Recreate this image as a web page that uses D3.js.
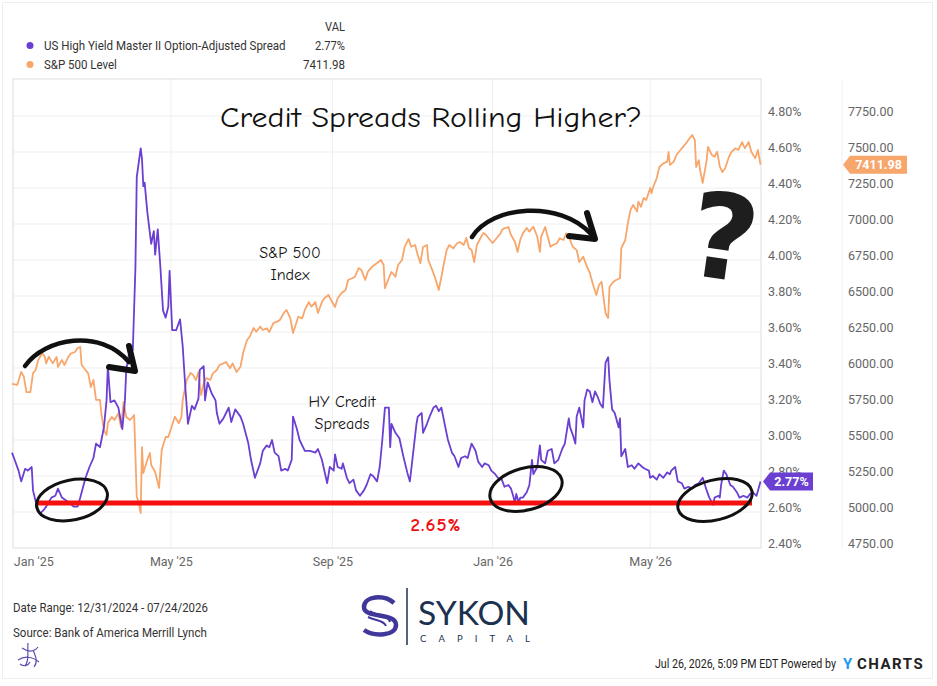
<!DOCTYPE html>
<html>
<head>
<meta charset="utf-8">
<script src="https://cdn.jsdelivr.net/npm/d3@7"></script>
<style>
  html, body { margin: 0; padding: 0; background: #fff; }
  svg { display: block; font-family: Roboto, "Liberation Sans", sans-serif; }
</style>
</head>
<body>
<div id="view"></div>
<script>
// HY spread (%)
const hyDates = ["2024-12-31","2025-01-02","2025-01-05","2025-01-07","2025-01-10","2025-01-12","2025-01-15","2025-01-16","2025-01-18","2025-01-21","2025-01-24","2025-01-26","2025-01-30","2025-02-02","2025-02-04","2025-02-07","2025-02-11","2025-02-16","2025-02-19","2025-02-21","2025-02-25","2025-02-28","2025-03-03","2025-03-05","2025-03-08","2025-03-11","2025-03-13","2025-03-14","2025-03-16","2025-03-19","2025-03-22","2025-03-25","2025-03-27","2025-03-28","2025-03-31","2025-04-02","2025-04-04","2025-04-05","2025-04-08","2025-04-09","2025-04-10","2025-04-11","2025-04-13","2025-04-16","2025-04-18","2025-04-19","2025-04-21","2025-04-23","2025-04-25","2025-04-27","2025-04-29","2025-04-30","2025-05-02","2025-05-05","2025-05-08","2025-05-10","2025-05-12","2025-05-14","2025-05-17","2025-05-19","2025-05-22","2025-05-23","2025-05-26","2025-05-27","2025-05-29","2025-06-01","2025-06-04","2025-06-05","2025-06-07","2025-06-10","2025-06-12","2025-06-14","2025-06-16","2025-06-19","2025-06-23","2025-06-25","2025-06-29","2025-07-01","2025-07-04","2025-07-08","2025-07-10","2025-07-13","2025-07-15","2025-07-17","2025-07-19","2025-07-22","2025-07-24","2025-07-27","2025-07-29","2025-07-31","2025-08-01","2025-08-02","2025-08-05","2025-08-07","2025-08-11","2025-08-15","2025-08-19","2025-08-21","2025-08-24","2025-08-28","2025-08-30","2025-09-02","2025-09-03","2025-09-05","2025-09-08","2025-09-09","2025-09-12","2025-09-14","2025-09-17","2025-09-19","2025-09-22","2025-09-25","2025-09-27","2025-09-30","2025-10-02","2025-10-05","2025-10-07","2025-10-09","2025-10-11","2025-10-14","2025-10-15","2025-10-16","2025-10-19","2025-10-22","2025-10-25","2025-10-28","2025-10-30","2025-11-02","2025-11-04","2025-11-05","2025-11-08","2025-11-09","2025-11-12","2025-11-14","2025-11-17","2025-11-19","2025-11-21","2025-11-23","2025-11-26","2025-11-28","2025-12-01","2025-12-03","2025-12-06","2025-12-08","2025-12-11","2025-12-13","2025-12-16","2025-12-19","2025-12-21","2025-12-24","2025-12-26","2025-12-29","2025-12-31","2026-01-03","2026-01-05","2026-01-08","2026-01-10","2026-01-13","2026-01-15","2026-01-17","2026-01-18","2026-01-19","2026-01-21","2026-01-22","2026-01-24","2026-01-27","2026-01-29","2026-01-31","2026-02-01","2026-02-04","2026-02-06","2026-02-07","2026-02-10","2026-02-12","2026-02-15","2026-02-17","2026-02-20","2026-02-23","2026-02-25","2026-02-28","2026-03-01","2026-03-03","2026-03-05","2026-03-06","2026-03-08","2026-03-11","2026-03-12","2026-03-14","2026-03-16","2026-03-18","2026-03-20","2026-03-22","2026-03-24","2026-03-26","2026-03-28","2026-03-30","2026-03-31","2026-04-02","2026-04-04","2026-04-07","2026-04-08","2026-04-09","2026-04-12","2026-04-14","2026-04-17","2026-04-19","2026-04-22","2026-04-25","2026-04-27","2026-04-30","2026-05-01","2026-05-03","2026-05-06","2026-05-08","2026-05-11","2026-05-14","2026-05-16","2026-05-17","2026-05-20","2026-05-22","2026-05-25","2026-05-27","2026-05-30","2026-06-02","2026-06-04","2026-06-07","2026-06-10","2026-06-13","2026-06-15","2026-06-18","2026-06-19","2026-06-22","2026-06-23","2026-06-24","2026-06-26","2026-06-28","2026-07-01","2026-07-03","2026-07-06","2026-07-08","2026-07-11","2026-07-14","2026-07-16","2026-07-18","2026-07-21","2026-07-24"];
const hyValues = [2.93,2.89,2.83,2.77,2.84,2.83,2.85,2.72,2.66,2.59,2.61,2.63,2.68,2.69,2.73,2.68,2.66,2.63,2.63,2.68,2.79,2.85,2.90,2.98,2.96,3.07,3.22,3.41,3.21,3.22,3.18,3.06,3.22,3.39,3.52,3.50,3.96,4.46,4.62,4.56,4.41,4.43,4.27,4.09,4.16,4.03,4.17,3.96,3.72,3.68,3.74,3.94,3.61,3.61,3.67,3.52,3.29,3.09,3.19,3.17,3.23,3.39,3.41,3.22,3.32,3.26,3.22,3.15,3.09,3.12,3.15,3.18,3.10,3.17,3.13,3.09,2.98,2.89,2.79,2.87,2.94,2.97,2.96,3.00,2.93,2.91,2.83,2.84,2.83,2.87,2.89,3.13,3.06,3.00,2.94,2.94,2.93,2.95,2.89,2.76,2.85,2.83,2.92,2.85,2.84,2.87,2.79,2.76,2.78,2.72,2.69,2.72,2.75,2.81,2.80,2.77,2.85,3.00,3.18,3.18,2.96,3.09,3.04,3.01,2.91,2.82,2.77,2.96,3.09,3.13,3.15,3.04,3.09,3.13,3.18,3.19,3.16,3.18,3.07,3.00,2.93,2.91,2.85,2.90,2.91,2.90,2.98,2.94,2.88,2.85,2.87,2.86,2.83,2.81,2.79,2.78,2.74,2.75,2.73,2.68,2.65,2.70,2.65,2.68,2.68,2.71,2.75,2.89,2.81,2.85,2.97,2.89,2.87,2.94,2.95,2.87,2.89,2.95,2.98,3.12,3.07,3.03,2.98,3.13,3.18,3.07,3.22,3.28,3.27,3.21,3.27,3.24,3.20,3.18,3.43,3.46,3.33,3.17,3.15,3.07,3.12,2.91,2.95,2.85,2.86,2.84,2.87,2.85,2.84,2.83,2.79,2.80,2.78,2.81,2.79,2.82,2.81,2.83,2.85,2.77,2.76,2.73,2.74,2.73,2.75,2.76,2.79,2.72,2.68,2.64,2.68,2.69,2.68,2.75,2.83,2.81,2.75,2.74,2.71,2.68,2.69,2.68,2.70,2.71,2.69,2.77];

// S&P 500 level
const spxDates = ["2024-12-31","2025-01-04","2025-01-07","2025-01-09","2025-01-11","2025-01-14","2025-01-16","2025-01-18","2025-01-20","2025-01-23","2025-01-25","2025-01-26","2025-01-28","2025-01-31","2025-02-03","2025-02-04","2025-02-07","2025-02-09","2025-02-12","2025-02-14","2025-02-17","2025-02-19","2025-02-21","2025-02-22","2025-02-25","2025-02-27","2025-03-01","2025-03-03","2025-03-05","2025-03-08","2025-03-09","2025-03-11","2025-03-13","2025-03-14","2025-03-17","2025-03-19","2025-03-22","2025-03-24","2025-03-26","2025-03-28","2025-03-31","2025-04-03","2025-04-05","2025-04-06","2025-04-08","2025-04-09","2025-04-10","2025-04-13","2025-04-15","2025-04-16","2025-04-19","2025-04-22","2025-04-24","2025-04-27","2025-04-29","2025-05-02","2025-05-04","2025-05-07","2025-05-09","2025-05-10","2025-05-13","2025-05-16","2025-05-18","2025-05-20","2025-05-22","2025-05-24","2025-05-26","2025-05-28","2025-05-31","2025-06-02","2025-06-05","2025-06-07","2025-06-10","2025-06-12","2025-06-15","2025-06-17","2025-06-20","2025-06-23","2025-06-25","2025-06-28","2025-06-30","2025-07-03","2025-07-05","2025-07-08","2025-07-10","2025-07-13","2025-07-15","2025-07-18","2025-07-21","2025-07-23","2025-07-26","2025-07-28","2025-07-31","2025-08-02","2025-08-04","2025-08-06","2025-08-09","2025-08-11","2025-08-14","2025-08-16","2025-08-19","2025-08-21","2025-08-24","2025-08-26","2025-08-29","2025-08-31","2025-09-03","2025-09-05","2025-09-08","2025-09-11","2025-09-13","2025-09-16","2025-09-18","2025-09-21","2025-09-23","2025-09-26","2025-09-28","2025-10-01","2025-10-03","2025-10-06","2025-10-08","2025-10-10","2025-10-11","2025-10-14","2025-10-16","2025-10-19","2025-10-21","2025-10-24","2025-10-26","2025-10-29","2025-10-31","2025-11-03","2025-11-05","2025-11-07","2025-11-09","2025-11-12","2025-11-13","2025-11-16","2025-11-18","2025-11-21","2025-11-23","2025-11-25","2025-11-27","2025-11-29","2025-12-02","2025-12-05","2025-12-07","2025-12-10","2025-12-12","2025-12-14","2025-12-16","2025-12-18","2025-12-20","2025-12-22","2025-12-25","2025-12-27","2025-12-30","2026-01-01","2026-01-04","2026-01-07","2026-01-08","2026-01-10","2026-01-13","2026-01-15","2026-01-18","2026-01-20","2026-01-22","2026-01-24","2026-01-27","2026-01-29","2026-02-01","2026-02-04","2026-02-06","2026-02-07","2026-02-10","2026-02-12","2026-02-14","2026-02-16","2026-02-19","2026-02-21","2026-02-24","2026-02-26","2026-03-01","2026-03-03","2026-03-06","2026-03-08","2026-03-11","2026-03-14","2026-03-16","2026-03-19","2026-03-21","2026-03-23","2026-03-25","2026-03-26","2026-03-28","2026-03-30","2026-03-31","2026-04-03","2026-04-05","2026-04-08","2026-04-09","2026-04-12","2026-04-14","2026-04-16","2026-04-18","2026-04-21","2026-04-22","2026-04-24","2026-04-26","2026-04-28","2026-05-01","2026-05-02","2026-05-03","2026-05-06","2026-05-08","2026-05-11","2026-05-14","2026-05-15","2026-05-16","2026-05-19","2026-05-21","2026-05-24","2026-05-26","2026-05-29","2026-05-31","2026-06-02","2026-06-04","2026-06-05","2026-06-07","2026-06-08","2026-06-10","2026-06-13","2026-06-14","2026-06-17","2026-06-19","2026-06-21","2026-06-23","2026-06-25","2026-06-27","2026-06-30","2026-07-02","2026-07-05","2026-07-07","2026-07-10","2026-07-12","2026-07-15","2026-07-17","2026-07-20","2026-07-22","2026-07-24"];
const spxValues = [5890,5882,5972,5940,5833,5833,5965,5986,6056,6104,6079,6032,6079,6032,6076,6007,6056,6021,6079,6102,6111,6139,6146,6021,5986,5963,5868,5917,5778,5778,5688,5569,5535,5618,5660,5639,5685,5590,5764,5660,5639,5674,5104,5083,4993,5451,5271,5361,5410,5326,5278,5167,5430,5521,5521,5604,5662,5616,5660,5778,5917,5965,5951,5917,5972,5812,5894,5930,5917,5963,5986,6021,6032,6042,5998,6032,5972,6009,6104,6194,6217,6278,6252,6287,6264,6275,6250,6312,6322,6333,6382,6403,6345,6243,6299,6356,6345,6403,6458,6426,6458,6382,6458,6486,6507,6472,6424,6484,6521,6542,6611,6623,6632,6694,6681,6611,6669,6701,6715,6736,6750,6715,6555,6625,6667,6634,6715,6750,6840,6896,6842,6854,6785,6727,6840,6854,6750,6681,6632,6542,6634,6729,6819,6854,6831,6866,6875,6854,6903,6833,6819,6736,6854,6889,6938,6924,6889,6868,6901,6935,6958,6970,6979,6924,6877,6806,6889,6935,6972,6947,6981,6912,6806,6912,6979,6912,6842,6854,6866,6901,6889,6935,6890,6842,6819,6736,6773,6701,6660,6562,6507,6576,6599,6521,6382,6347,6562,6599,6611,6623,6833,6889,7007,7097,7132,7086,7155,7120,7181,7167,7250,7213,7250,7319,7396,7421,7433,7500,7410,7433,7479,7514,7535,7569,7595,7618,7583,7396,7444,7375,7285,7444,7535,7479,7467,7502,7398,7361,7386,7467,7502,7526,7514,7569,7526,7569,7502,7456,7514,7411.98];

const xTickDates = ["2025-01-01","2025-05-01","2025-09-01","2026-01-01","2026-05-01"];
const xTickLabels = ["Jan '25","May '25","Sep '25","Jan '26","May '26"];
const pctTicks = [2.4,2.6,2.8,3.0,3.2,3.4,3.6,3.8,4.0,4.2,4.4,4.6,4.8];
const spxTicks = [4750,5000,5250,5500,5750,6000,6250,6500,6750,7000,7250,7500,7750];
const legendNames = ["US High Yield Master II Option-Adjusted Spread","S&P 500 Level"];
const legendValues = ["2.77%","7411.98"];
const supportLevel = 2.65;

const PURPLE = "#6a3fd2";
const ORANGE = "#f7a66c";
const HAND = "'Comic Sans MS','Comic Neue','DejaVu Sans',sans-serif";

const W = 937, H = 686;
const parse = d3.timeParse("%Y-%m-%d");
const plot = {left: 13, right: 761, top: 79, bottom: 548};

const svg = d3.select("#view").append("svg")
    .attr("width", W).attr("height", H);

// card
svg.append("rect").attr("x", 2.5).attr("y", 2.5).attr("width", 930).attr("height", 676)
    .attr("fill", "#fff").attr("stroke", "#eeeeee");

// narrow ycharts-style text: squeeze horizontally to the measured width
function label(g, tx, ty, txt, len, alignEnd) {
    const t = g.append("text").attr("x", 0).attr("y", 0)
        .attr("font-size", 12.5).attr("fill", "#333").text(txt);
    const natural = t.node().getComputedTextLength();
    const sx = len / natural;
    const left = alignEnd ? tx - len : tx;
    t.attr("transform", `translate(${left},${ty}) scale(${sx},1)`);
    return t;
}

// legend
label(svg, 345, 31, "VAL", 20, true);
const nameLens = [242, 73];
const valLens = [30, 42];
[PURPLE, ORANGE].forEach((c, i) => {
    const y = 50 + i * 19;
    svg.append("circle").attr("cx", 30).attr("cy", y - 4.5).attr("r", 3.5).attr("fill", c);
    label(svg, 44, y, legendNames[i], nameLens[i]);
    label(svg, 345, y, legendValues[i], valLens[i], true);
});

// scales
const x = d3.scaleTime()
    .domain([parse("2024-12-31"), parse("2026-07-24")])
    .range([12, 760.5]);
const yPct = d3.scaleLinear().domain([2.4, 5.0]).range([plot.bottom, 80]);
const ySpx = d3.scaleLinear().domain([4750, 8000]).range([plot.bottom, 80]);

// grid
const grid = svg.append("g");
grid.selectAll("line.h").data(pctTicks.slice(1)).join("line")
    .attr("x1", plot.left).attr("x2", plot.right)
    .attr("y1", d => yPct(d)).attr("y2", d => yPct(d))
    .attr("stroke", "#efefef");
grid.selectAll("line.v").data(xTickDates.slice(1)).join("line")
    .attr("x1", d => x(parse(d))).attr("x2", d => x(parse(d)))
    .attr("y1", plot.top).attr("y2", plot.bottom)
    .attr("stroke", "#efefef");
svg.append("rect").attr("x", plot.left).attr("y", plot.top)
    .attr("width", plot.right - plot.left).attr("height", plot.bottom - plot.top)
    .attr("fill", "none").attr("stroke", "#dedede");
svg.append("line").attr("x1", 842).attr("x2", 842).attr("y1", plot.top).attr("y2", plot.bottom)
    .attr("stroke", "#f0f0f0");

// axes
const xAxis = svg.append("g")
    .attr("transform", `translate(0,${plot.bottom})`)
    .call(d3.axisBottom(x).tickValues(xTickDates.map(parse))
        .tickFormat((d, i) => xTickLabels[i]).tickSize(0).tickPadding(9));
xAxis.select(".domain").remove();
xAxis.selectAll("text").attr("font-size", 12.5).attr("fill", "#666")
    .attr("font-family", "Roboto, sans-serif")
    .attr("text-anchor", (d, i) => i === 0 ? "start" : "middle")
    .attr("x", (d, i) => i === 0 ? 0 : null);

const pctAxis = svg.append("g")
    .attr("transform", "translate(768,-5)")
    .call(d3.axisRight(yPct).tickValues(pctTicks).tickFormat(d => d.toFixed(2) + "%")
        .tickSize(0).tickPadding(0));
const spxAxis = svg.append("g")
    .attr("transform", "translate(848,-5)")
    .call(d3.axisRight(ySpx).tickValues(spxTicks).tickFormat(d => d.toFixed(2))
        .tickSize(0).tickPadding(0));
[pctAxis, spxAxis].forEach(a => {
    a.select(".domain").remove();
    a.selectAll("text").attr("font-size", 12.5).attr("fill", "#666")
        .attr("font-family", "Roboto, sans-serif");
});

// series
const spx = spxDates.map((d, i) => ({date: parse(d), value: spxValues[i]}));
const hy = hyDates.map((d, i) => ({date: parse(d), value: hyValues[i]}));

svg.append("path").datum(spx)
    .attr("fill", "none").attr("stroke", ORANGE).attr("stroke-width", 1.8)
    .attr("stroke-linejoin", "round")
    .attr("d", d3.line().x(d => x(d.date)).y(d => ySpx(d.value)));
svg.append("path").datum(hy)
    .attr("fill", "none").attr("stroke", PURPLE).attr("stroke-width", 1.8)
    .attr("stroke-linejoin", "round")
    .attr("d", d3.line().x(d => x(d.date)).y(d => yPct(d.value)));

// last value tags
function tag(xTip, yv, w, txt, color) {
    const g = svg.append("g");
    g.append("path")
        .attr("d", `M${xTip},${yv} L${xTip + 7},${yv - 9} L${xTip + 7 + w},${yv - 9} L${xTip + 7 + w},${yv + 9} L${xTip + 7},${yv + 9} Z`)
        .attr("fill", color);
    g.append("text").attr("x", xTip + 7 + w / 2).attr("y", yv + 4.5)
        .attr("text-anchor", "middle").attr("font-size", 12.5).attr("font-weight", "bold")
        .attr("fill", "#fff").text(txt);
}
tag(763, yPct(hyValues[hyValues.length - 1]), 43, legendValues[0], PURPLE);
tag(843, ySpx(spxValues[spxValues.length - 1]), 57, legendValues[1], ORANGE);

// support line
svg.append("line")
    .attr("x1", 36).attr("x2", 752)
    .attr("y1", yPct(supportLevel)).attr("y2", yPct(supportLevel))
    .attr("stroke", "#f50f0f").attr("stroke-width", 5);
svg.append("text").attr("x", 436).attr("y", 531).attr("text-anchor", "middle")
    .attr("font-family", HAND).attr("font-weight", "bold").attr("font-size", 19)
    .attr("fill", "#ee1111").attr("letter-spacing", 1).text(supportLevel.toFixed(2) + "%");

// hand-drawn notes
const notes = svg.append("g").attr("font-family", HAND).attr("fill", "#111");
notes.append("text").attr("x", 431).attr("y", 127).attr("text-anchor", "middle")
    .attr("font-size", 28).attr("textLength", 422).attr("lengthAdjust", "spacingAndGlyphs")
    .text("Credit Spreads Rolling Higher?");
[["S&P 500", 290, 258], ["Index", 290, 280], ["HY Credit", 342, 407], ["Spreads", 342, 429]]
    .forEach(([t, tx, ty]) => notes.append("text").attr("x", tx).attr("y", ty)
        .attr("text-anchor", "middle").attr("font-size", 16).text(t));
notes.append("text").attr("x", 724).attr("y", 279).attr("text-anchor", "middle")
    .attr("font-family", "'DejaVu Sans', sans-serif").attr("font-weight", "bold")
    .attr("font-size", 118).attr("fill", "#1e1e1e")
    .attr("transform", "rotate(8,724,235)").text("?");

const ink = svg.append("g").attr("fill", "none").attr("stroke", "#111")
    .attr("stroke-linecap", "round").attr("stroke-linejoin", "round");
ink.append("path").attr("d", "M25,366 C45,338 100,328 129,362").attr("stroke-width", 4.5);
ink.append("path").attr("d", "M129,346 L135,371 L109,367").attr("stroke-width", 6);
ink.append("path").attr("d", "M472,237 C492,205 560,200 591,234").attr("stroke-width", 4.5);
ink.append("path").attr("d", "M587,213 L595,239 L569,236").attr("stroke-width", 6);
[[72, 500, 36, 20, -12], [526, 489, 37, 21, -15], [715, 500, 38, 20, -14]].forEach(([cx, cy, rx, ry, a]) => {
    ink.append("ellipse").attr("cx", cx).attr("cy", cy).attr("rx", rx).attr("ry", ry)
        .attr("transform", `rotate(${a},${cx},${cy})`).attr("stroke-width", 3);
});

// footer
label(svg, 13, 612, "Date Range: 12/31/2024 - 07/24/2026", 195);
label(svg, 13, 637, "Source: Bank of America Merrill Lynch", 194);
svg.append("path").attr("fill", "none").attr("stroke", "#5a4fb0").attr("stroke-width", 1.2)
    .attr("d", "M22,648 C28,652 34,652 38,647 M28,643 C27,652 30,660 25,666 M18,660 C24,656 32,656 39,662 M33,650 C36,657 38,662 34,667 M20,664 C24,667 28,666 30,662");
label(svg, 836, 668, "Jul 26, 2026, 5:09 PM EDT Powered by", 181, true).attr("fill", "#222");
svg.append("text").attr("x", 843).attr("y", 669).attr("font-size", 15)
    .attr("font-weight", "bold").attr("fill", "#1d9bf0").text("Y");
svg.append("text").attr("x", 857).attr("y", 669).attr("font-size", 15)
    .attr("font-weight", "bold").attr("fill", "#222")
    .attr("letter-spacing", 1.5).text("CHARTS");

// logo
const logo = svg.append("g");
logo.append("path").attr("fill", "none").attr("stroke", "#40379a").attr("stroke-width", 4.5)
    .attr("d", "M394,603 C384,594 364,596 364,607 C364,619 396,612 396,625 C396,636 374,637 364,630");
logo.append("path").attr("fill", "none").attr("stroke", "#40379a").attr("stroke-width", 2)
    .attr("d", "M370,611 C376,616 388,614 390,622 M368,617 C376,621 384,620 386,626");
logo.append("line").attr("x1", 407).attr("x2", 407).attr("y1", 588).attr("y2", 645)
    .attr("stroke", "#1c3150").attr("stroke-width", 1.5);
logo.append("text").attr("x", 418).attr("y", 625).attr("font-family", "Lato, 'Open Sans', sans-serif")
    .attr("font-size", 33).attr("fill", "#1c3150").attr("textLength", 112)
    .attr("lengthAdjust", "spacingAndGlyphs").text("SYKON");
logo.append("text").attr("x", 420).attr("y", 642).attr("font-family", "Lato, 'Open Sans', sans-serif")
    .attr("font-size", 9.5).attr("fill", "#1c3150").attr("textLength", 110)
    .attr("lengthAdjust", "spacing").text("CAPITAL");
</script>
</body>
</html>
